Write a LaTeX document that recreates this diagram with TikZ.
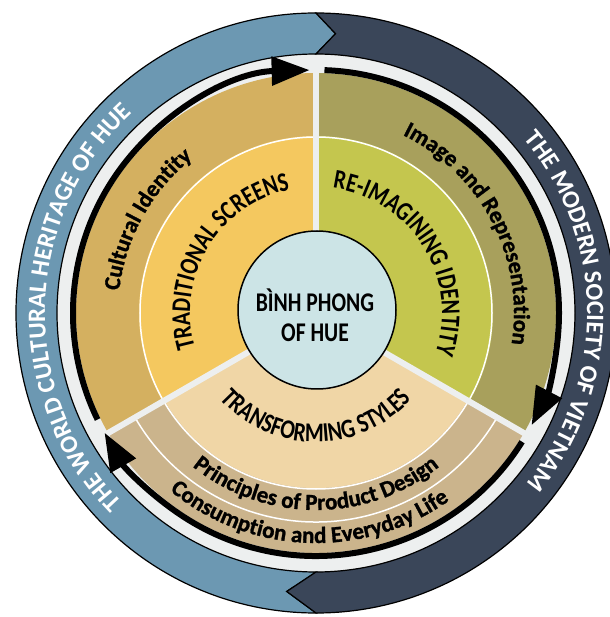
\documentclass[tikz,border=0pt]{standalone}
\usepackage{fontspec}
\setmainfont{Carlito}
\newfontfamily\condfont[FakeStretch=0.8]{Carlito}
\newfontfamily\topicfont[FakeBold=1.2]{Carlito Bold}
\usetikzlibrary{arrows.meta, decorations.text}

\definecolor{heritage}{HTML}{6C98B2}
\definecolor{society}{HTML}{3A4659}
\definecolor{gapgray}{HTML}{EDEFEF}
\definecolor{identityout}{HTML}{D4B060}
\definecolor{identityin}{HTML}{F4C85F}
\definecolor{imageout}{HTML}{A8A05C}
\definecolor{imagein}{HTML}{C4C64E}
\definecolor{styleout}{HTML}{CBB48C}
\definecolor{stylein}{HTML}{F0D6A6}
\definecolor{hubfill}{HTML}{CCE4E6}

\newcommand{\RingFont}{\color{white}\bfseries\fontsize{25}{30}\selectfont}
\newcommand{\TopicFont}{\topicfont\fontsize{23}{28}\selectfont}
\newcommand{\ThemeFont}{\condfont\bfseries\fontsize{27}{30}\selectfont}
\newcommand{\ArcText}[5]{% radius, from angle, to angle, font, text
\path[decorate, decoration={text along path, text align=center, text={|#4|#5}}]
  (#2:#1) arc[start angle=#2, end angle=#3, radius=#1];%
}

\begin{document}
\begin{tikzpicture}[x=1pt, y=1pt,
ring/.style={draw=black, line width=1.2pt},
band/.style={draw=white, line width=1.5pt},
divider/.style={draw=gapgray, line width=6pt},
flow/.style={line width=6pt, -{Triangle[length=38pt, width=28pt]}},
hub/.style={circle, draw=black, line width=1.5pt, fill=hubfill, minimum size=158pt, inner sep=0pt},
]
\useasboundingbox (-316,-304) rectangle (293,313);

%%%%%%%%%%%%%%%%%%%%%%%% OUTER RING %%%%%%%%%%%%%%%%%%%%%%%%
\fill[gapgray] (0,0) circle[radius=259];
\filldraw[ring, fill=heritage] (270:300) arc[start angle=270, end angle=90, radius=300]
  -- (86:280) -- (90:259) arc[start angle=90, end angle=270, radius=259] -- (264:280) -- cycle;
\filldraw[ring, fill=society] (90:300) arc[start angle=90, end angle=-90, radius=300]
  -- (-96:280) -- (-90:259) arc[start angle=-90, end angle=90, radius=259] -- (86:280) -- cycle;

%%%%%%%%%%%%%%%%%%%%%%%% SECTORS %%%%%%%%%%%%%%%%%%%%%%%%
\fill[identityout] (0,0) -- (90:240) arc[start angle=90, end angle=210, radius=240] -- cycle;
\fill[identityin] (0,0) -- (90:177) arc[start angle=90, end angle=210, radius=177] -- cycle;
\fill[imageout] (0,0) -- (-30:240) arc[start angle=-30, end angle=90, radius=240] -- cycle;
\fill[imagein] (0,0) -- (-30:177) arc[start angle=-30, end angle=90, radius=177] -- cycle;
\fill[styleout] (0,0) -- (210:240) arc[start angle=210, end angle=330, radius=240] -- cycle;
\fill[stylein] (0,0) -- (210:175) arc[start angle=210, end angle=330, radius=175] -- cycle;
\draw[band] (0,0) circle[radius=176];
\draw[band] (210:209) arc[start angle=210, end angle=330, radius=209];

%%%%%%%%% dividers
\foreach \a in {90,-30,210}
  \draw[divider] (\a:70) -- (\a:250);

%%%%%%%%% cycle arrows
\draw[flow] (206:243) arc[start angle=206, end angle=91.5, radius=243];
\draw[flow] (88:243) arc[start angle=88, end angle=-27.5, radius=243];
\draw[flow] (-32:243) arc[start angle=-32, end angle=-150.5, radius=243];

%%%%%%%%%%%%%%%%%%%%%%%% CENTRE %%%%%%%%%%%%%%%%%%%%%%%%
\node[hub] (hub) at (1,3) {};
\node[align=center, font=\ThemeFont, inner sep=0pt] (hubtext) at (-1,-2) {BÌNH PHONG\\OF HUE};

%%%%%%%%%%%%%%%%%%%%%%%% TEXTS %%%%%%%%%%%%%%%%%%%%%%%%
\ArcText{271}{243.5}{113.5}{\RingFont}{THE WORLD CULTURAL HERITAGE OF HUE}
\ArcText{271}{65}{-64}{\RingFont}{THE MODERN SOCIETY OF VIETNAM}
\ArcText{198}{195}{107}{\TopicFont}{Cultural Identity}
\ArcText{198}{75}{-20}{\TopicFont}{Image and Representation}
\ArcText{126}{210}{88}{\ThemeFont}{TRADITIONAL SCREENS}
\ArcText{126}{95}{-31}{\ThemeFont}{RE-IMAGINING IDENTITY}
\ArcText{129}{205}{335}{\ThemeFont}{TRANSFORMING STYLES}
\ArcText{197}{215}{325}{\TopicFont}{Principles of Product Design}
\ArcText{230}{215}{321}{\TopicFont}{Consumption and Everyday Life}
\end{tikzpicture}
\end{document}
